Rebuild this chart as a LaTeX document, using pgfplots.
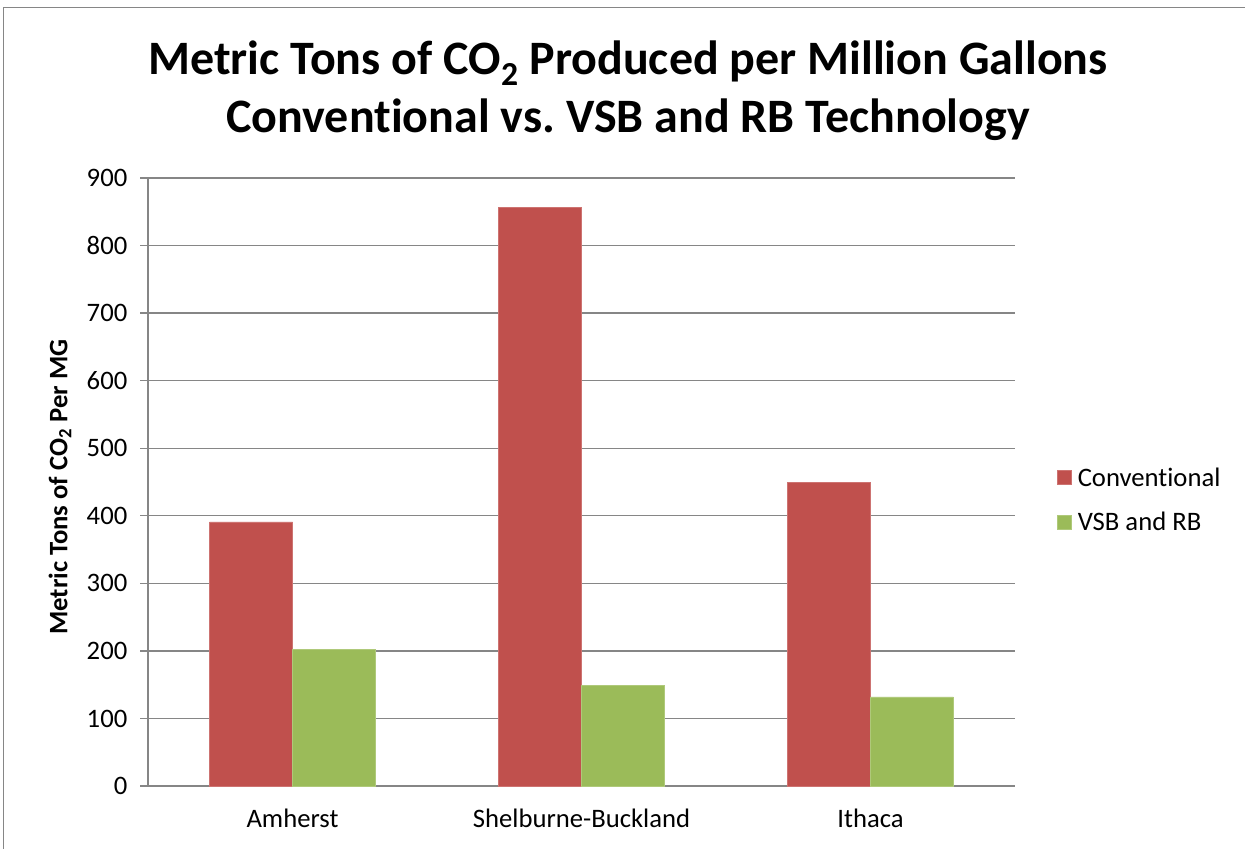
\documentclass[border=0pt]{standalone}
\usepackage{pgfplots}
\pgfplotsset{compat=1.18}
\usepackage{fontspec}
\setmainfont{Carlito}[RawFeature=-liga]
\definecolor{convred}{HTML}{C0504D}
\definecolor{vsbgreen}{HTML}{9BBB59}
\definecolor{axgray}{HTML}{868686}
\frenchspacing
\begin{document}
\begin{tikzpicture}[x=0.75pt,y=0.75pt]
\useasboundingbox (0,0) rectangle (1245,849);
\draw[axgray, line width=1pt] (3.5,0) -- (3.5,841.5) -- (1245,841.5);
\node[font=\fontsize{36}{43.5}\selectfont\bfseries, align=center] at (628,758)
  {Metric Tons of CO\textsubscript{2} Produced per Million Gallons\\Conventional vs. VSB and RB Technology};
\node[rotate=90, font=\fontsize{20}{24}\selectfont\bfseries] at (60,362) {Metric Tons of CO\textsubscript{2} Per MG};
\begin{axis}[
  at={(111pt,47.25pt)}, anchor=south west,
  scale only axis, width=650.25pt, height=456pt,
  ybar=0pt, bar width=0.287,
  xmin=-0.5, xmax=2.5, ymin=0, ymax=900,
  ytick={0,100,...,900},
  xtick={0,1,2},
  xticklabels={Amherst,Shelburne-Buckland,Ithaca},
  extra x ticks={-0.5,0.5,1.5,2.5},
  extra x tick labels={},
  extra x tick style={major tick length=8pt, tick style={axgray, line width=1pt}},
  x tick style={draw=none},
  y tick style={axgray, line width=1pt},
  major tick length=6pt,
  tick align=outside,
  axis x line*=bottom, axis y line*=left,
  axis line style={axgray, line width=1pt, -},
  ymajorgrids, grid style={axgray, line width=1pt},
  tick label style={font=\fontsize{20}{24}\selectfont},
  /pgf/number format/assume math mode=true,
  yticklabel style={xshift=-6pt},
  xticklabel style={yshift=-8pt},
  legend style={at={(rel axis cs:1.043,0.47)}, anchor=west, draw=none, fill=none,
    font=\fontsize{20}{24}\selectfont, row sep=14pt, legend cell align=left},
  legend image code/.code={\fill[#1] (0pt,-5pt) rectangle (10.5pt,5.5pt); \path (13.5pt,0pt);},
  clip=false,
]
\addplot[fill=convred, draw=convred!80!white] coordinates {(0,391) (1,857) (2,450)};
\addplot[fill=vsbgreen, draw=vsbgreen!80!white] coordinates {(0,202) (1,149.5) (2,132)};
\legend{Conventional,VSB and RB}
\end{axis}
\end{tikzpicture}
\end{document}
